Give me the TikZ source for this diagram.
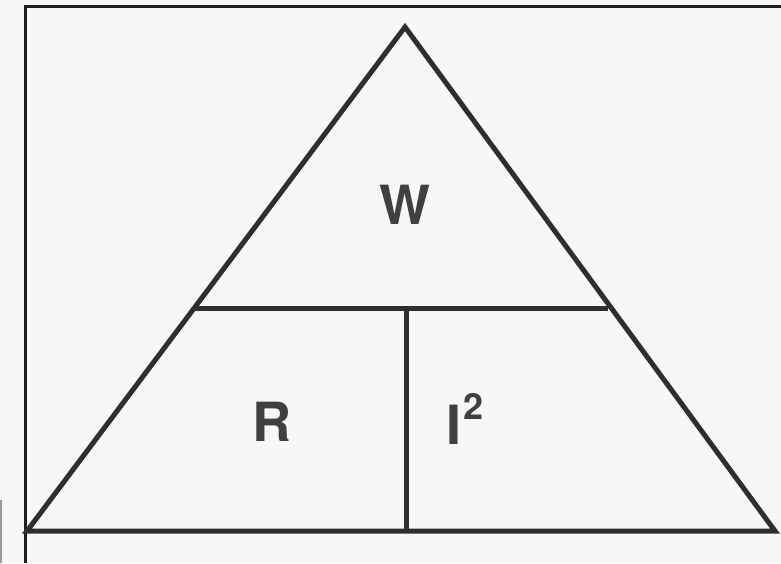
\documentclass[tikz,border=0pt]{standalone}
\usepackage{fontspec}
\setmainfont{TeX Gyre Heros}
\begin{document}
\begin{tikzpicture}[x=1pt,y=-1pt,
  tri/.style={draw=black!82,line width=5pt,line join=miter,line cap=butt},
  frameline/.style={draw=black!88,line width=3pt},
  lbl/.style={font=\fontsize{54}{54}\selectfont\bfseries,text=black!75,inner sep=0pt}]
\useasboundingbox (0,0) rectangle (781,563);
\fill[white!97!black] (0,0) rectangle (781,563);
% frame
\draw[frameline] (25,563) -- (25,6.5) -- (781,6.5);
\draw[black!40,line width=1.5pt] (1,500) -- (1,563);
% triangle
\coordinate (apex) at (405,27);
\coordinate (bl) at (27,531);
\coordinate (br) at (775,531);
\coordinate (ml) at (196,308);
\coordinate (mr) at (608,308);
\coordinate (mb) at (406,531);
\coordinate (mt) at (406,308);
\draw[tri] (bl) -- (apex) -- (br) -- cycle;
\draw[tri] (ml) -- (mr);
\draw[tri] (mt) -- (mb);
% labels
\node[lbl] (w) at (405,205) {W};
\node[lbl] (r) at (272,422) {R};
\node[lbl,anchor=base west] (i) at (446,444) {I\kern2pt\raisebox{0.45em}{\fontsize{36}{36}\selectfont 2}};
\end{tikzpicture}
\end{document}
